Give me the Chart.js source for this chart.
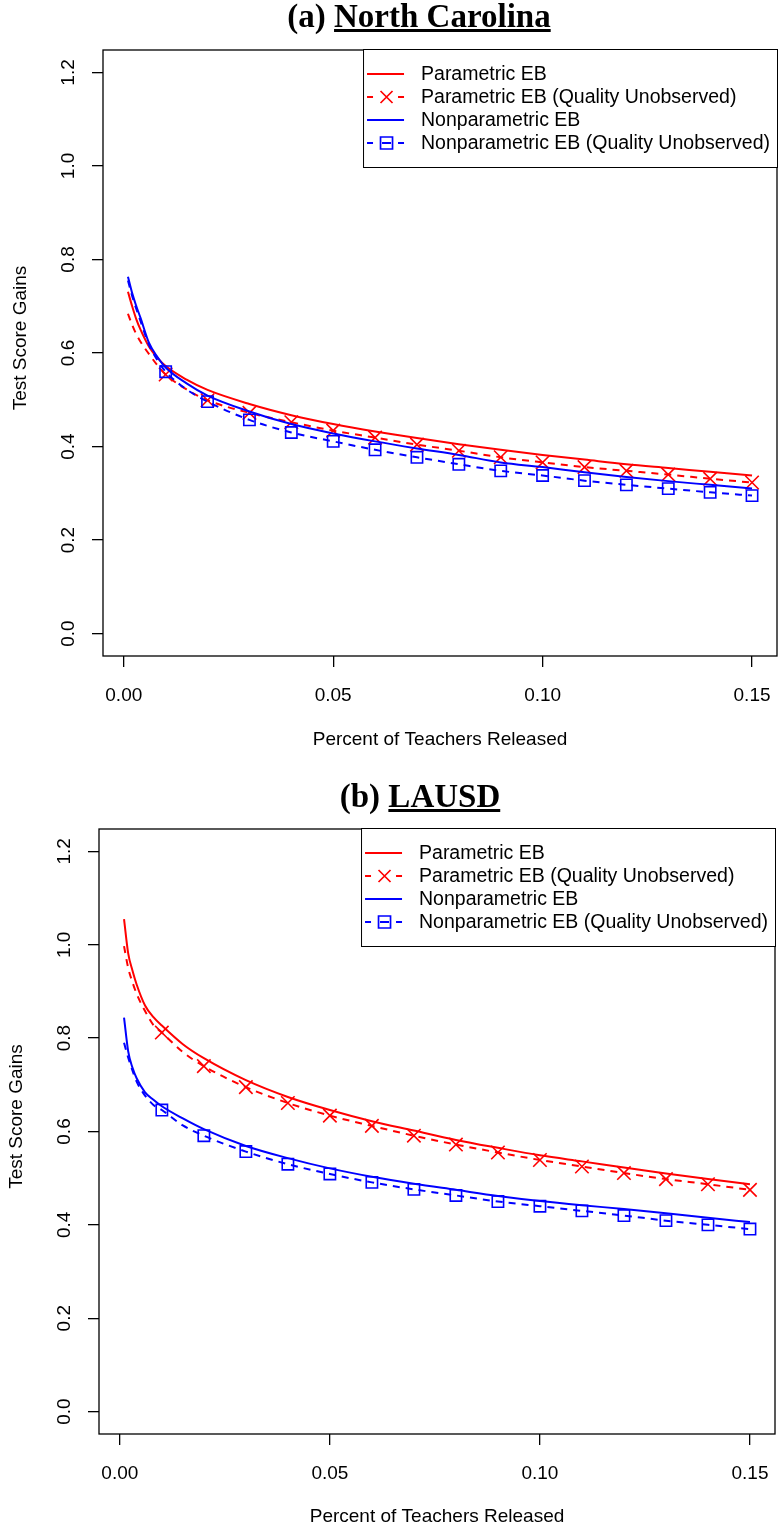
<!DOCTYPE html>
<html>
<head>
<meta charset="utf-8">
<script src="https://cdn.jsdelivr.net/npm/chart.js@4.4.1/dist/chart.umd.min.js"></script>
<style>
  body { margin: 0; background: #fff; }
  #page { position: relative; width: 778px; height: 1530px; overflow: hidden; background: #fff; }
  .panel { position: absolute; left: 0; width: 778px; height: 765px; }
  .title { position: absolute; font: bold 33px "Liberation Serif", "Times New Roman", serif; line-height: 40px;
           white-space: nowrap; transform: translateX(-50%); color: #000; }
</style>
</head>
<body>
<div id="page">
  <div class="panel" style="top:0"><canvas id="chartA" width="778" height="765"></canvas></div>
  <div class="panel" style="top:765px"><canvas id="chartB" width="778" height="765"></canvas></div>
  <div class="title" style="left:419px; top:-4px">(a) <u>North Carolina</u></div>
  <div class="title" style="left:420px; top:776px">(b) <u>LAUSD</u></div>
</div>
<script>
    // x positions of the curves (share of teachers released)
    const xCurve = [0.001, 0.002, 0.003, 0.004, 0.006, 0.008, 0.01, 0.015, 0.02, 0.03, 0.04, 0.05,
                    0.06, 0.07, 0.08, 0.09, 0.10, 0.11, 0.12, 0.13, 0.14, 0.15];
    // x positions where the markers sit
    const markX = [0.01, 0.02, 0.03, 0.04, 0.05, 0.06, 0.07, 0.08, 0.09, 0.10, 0.11, 0.12, 0.13, 0.14, 0.15];

    const xTicks = [0, 0.05, 0.10, 0.15];
    const xTickLabels = ['0.00', '0.05', '0.10', '0.15'];
    const yTicks = [0, 0.2, 0.4, 0.6, 0.8, 1.0, 1.2];
    const yTickLabels = ['0.0', '0.2', '0.4', '0.6', '0.8', '1.0', '1.2'];

    const xTitle = 'Percent of Teachers Released';
    const yTitle = 'Test Score Gains';
    const legendLabels = ['Parametric EB', 'Parametric EB (Quality Unobserved)',
                          'Nonparametric EB', 'Nonparametric EB (Quality Unobserved)'];

    // (a) North Carolina
    const ncParam     = [0.731, 0.700, 0.672, 0.650, 0.614, 0.590, 0.572, 0.543, 0.521, 0.491, 0.467, 0.448,
                         0.432, 0.418, 0.405, 0.393, 0.382, 0.372, 0.362, 0.354, 0.346, 0.338];
    const ncParamQU   = [0.684, 0.660, 0.640, 0.624, 0.598, 0.574, 0.554, 0.522, 0.499, 0.472, 0.452, 0.434,
                         0.419, 0.404, 0.391, 0.377, 0.366, 0.356, 0.348, 0.340, 0.331, 0.323];
    const ncNonpar    = [0.763, 0.728, 0.700, 0.675, 0.622, 0.592, 0.569, 0.535, 0.509, 0.475, 0.448, 0.428,
                         0.411, 0.396, 0.382, 0.366, 0.356, 0.345, 0.335, 0.326, 0.318, 0.310];
    const ncNonparQU  = [0.755, 0.722, 0.694, 0.668, 0.618, 0.585, 0.560, 0.522, 0.496, 0.457, 0.430, 0.411,
                         0.393, 0.377, 0.362, 0.348, 0.338, 0.327, 0.318, 0.310, 0.302, 0.295];

    // (b) LAUSD
    const laParam     = [1.055, 0.981, 0.945, 0.915, 0.870, 0.845, 0.827, 0.787, 0.757, 0.710, 0.674, 0.646,
                         0.622, 0.602, 0.582, 0.565, 0.549, 0.536, 0.523, 0.510, 0.498, 0.487];
    const laParamQU   = [0.997, 0.950, 0.920, 0.895, 0.858, 0.828, 0.812, 0.770, 0.740, 0.695, 0.661, 0.634,
                         0.612, 0.591, 0.572, 0.555, 0.539, 0.525, 0.511, 0.498, 0.487, 0.475];
    const laNonpar    = [0.844, 0.771, 0.737, 0.714, 0.684, 0.668, 0.654, 0.628, 0.605, 0.569, 0.543, 0.521,
                         0.503, 0.488, 0.475, 0.462, 0.451, 0.442, 0.434, 0.425, 0.415, 0.406];
    const laNonparQU  = [0.790, 0.758, 0.731, 0.707, 0.677, 0.657, 0.646, 0.613, 0.591, 0.557, 0.530, 0.509,
                         0.491, 0.476, 0.463, 0.450, 0.440, 0.430, 0.420, 0.409, 0.400, 0.391];

    const RED = '#ff0000';
    const BLUE = '#0000ff';
    const FONT = '"Liberation Sans", Arial, Helvetica, sans-serif';

    const curve = ys => xCurve.map((x, i) => ({ x: x, y: ys[i] }));
    const marks = ys => curve(ys).filter(p => markX.some(m => Math.abs(m - p.x) < 1e-9));

    // R style box round the plot region, plus the rotated y label
    const boxPlugin = {
        id: 'rBox',
        afterDraw(chart, args, opts) {
            const { ctx, chartArea: a } = chart;
            ctx.save();
            ctx.strokeStyle = '#000';
            ctx.lineWidth = 1.3;
            ctx.strokeRect(a.left, a.top, a.right - a.left, a.bottom - a.top);

            ctx.translate(opts.yTitleX, (a.top + a.bottom) / 2 - 15);
            ctx.rotate(-Math.PI / 2);
            ctx.font = '19px ' + FONT;
            ctx.fillStyle = '#000';
            ctx.textAlign = 'center';
            ctx.textBaseline = 'middle';
            ctx.fillText(yTitle, 0, 0);
            ctx.restore();
        }
    };

    // legend box in the top right corner, as R draws it
    const legendPlugin = {
        id: 'rLegend',
        afterDraw(chart) {
            const { ctx, chartArea: a } = chart;
            const styles = [
                { color: RED, dashed: false, mark: null },
                { color: RED, dashed: true, mark: 'x' },
                { color: BLUE, dashed: false, mark: null },
                { color: BLUE, dashed: true, mark: 'sq' }
            ];
            ctx.save();
            ctx.font = '19.5px ' + FONT;
            const textW = Math.max(...legendLabels.map(t => ctx.measureText(t).width));
            const w = 58 + textW + 7, h = 118;
            const left = a.right - w, top = a.top - 1;
            ctx.fillStyle = '#fff';
            ctx.fillRect(left, top, w, h);
            ctx.strokeStyle = '#000';
            ctx.lineWidth = 1;
            ctx.strokeRect(left + 0.5, top + 0.5, w, h);

            legendLabels.forEach((label, i) => {
                const s = styles[i];
                const y = top + 25 + i * 23;
                const x0 = left + 4, x1 = left + 41, cx = left + 23.5;
                ctx.strokeStyle = s.color;
                ctx.lineWidth = 2;
                ctx.beginPath();
                if (!s.dashed) {
                    ctx.moveTo(x0, y); ctx.lineTo(x1, y);
                } else {
                    ctx.moveTo(x0, y); ctx.lineTo(x0 + 6, y);
                    ctx.moveTo(x1 - 6, y); ctx.lineTo(x1, y);
                    if (s.mark === 'sq') { ctx.moveTo(cx - 4.5, y); ctx.lineTo(cx + 4.5, y); }
                }
                ctx.stroke();
                ctx.lineWidth = 1.7;
                ctx.beginPath();
                if (s.mark === 'x') {
                    ctx.moveTo(cx - 6, y - 6); ctx.lineTo(cx + 6, y + 6);
                    ctx.moveTo(cx + 6, y - 6); ctx.lineTo(cx - 6, y + 6);
                } else if (s.mark === 'sq') {
                    ctx.rect(cx - 6, y - 6, 12, 12);
                }
                ctx.stroke();
                ctx.fillStyle = '#000';
                ctx.textBaseline = 'middle';
                ctx.textAlign = 'left';
                ctx.fillText(label, left + 58, y + 1);
            });
            ctx.restore();
        }
    };

    function makePanel(id, p) {
        const W = 778, H = 765;
        const font = { family: FONT, size: 19 };
        const tickGrid = { display: true, drawOnChartArea: false, drawTicks: true, tickLength: 11,
                           color: '#000', lineWidth: 1.3 };
        const ds = [
            { data: curve(p.param), borderColor: RED, borderWidth: 2, pointRadius: 0, order: 6 },
            { data: curve(p.paramQU), borderColor: RED, borderWidth: 2, borderDash: [7, 6], pointRadius: 0, order: 5 },
            { data: marks(p.paramQU), showLine: false, pointStyle: 'crossRot', pointRadius: 9.5,
              pointBorderColor: RED, pointBorderWidth: 1.6, order: 4 },
            { data: curve(p.nonpar), borderColor: BLUE, borderWidth: 2, pointRadius: 0, order: 3 },
            { data: curve(p.nonparQU), borderColor: BLUE, borderWidth: 2, borderDash: [7, 6], pointRadius: 0, order: 2 },
            { data: marks(p.nonparQU), showLine: false, pointStyle: 'rect', pointRadius: 8,
              pointBorderColor: BLUE, pointBackgroundColor: 'rgba(0,0,0,0)', pointBorderWidth: 1.6, order: 1 }
        ];
        ds.forEach(d => { d.cubicInterpolationMode = 'monotone'; d.fill = false; });

        return new Chart(document.getElementById(id).getContext('2d'), {
            type: 'line',
            data: { datasets: ds },
            options: {
                responsive: false,
                animation: false,
                layout: { autoPadding: false,
                          padding: { left: 0, top: p.box.top, right: W - p.box.right, bottom: 0 } },
                plugins: { legend: { display: false }, tooltip: { enabled: false },
                           rBox: { yTitleX: p.yTitleX } },
                scales: {
                    x: {
                        type: 'linear', min: -0.00496, max: 0.15596,
                        afterBuildTicks: s => { s.ticks = xTicks.map(v => ({ value: v })); },
                        afterFit: s => {
                            s.height = H - p.box.bottom;
                            s.paddingLeft = 0;
                            s.paddingRight = 0;
                        },
                        ticks: { callback: v => xTickLabels[xTicks.indexOf(v)], font: font, color: '#000',
                                 padding: 17, maxRotation: 0, autoSkip: false },
                        grid: tickGrid,
                        border: { display: false },
                        title: { display: true, text: xTitle, font: font, color: '#000',
                                 padding: { top: 0, bottom: p.xTitlePad } }
                    },
                    y: {
                        type: 'linear', min: -0.048, max: 1.248,
                        afterBuildTicks: s => { s.ticks = yTicks.map(v => ({ value: v })); },
                        afterFit: s => {
                            s.width = p.box.left;
                            s.paddingTop = 0;
                            s.paddingBottom = 0;
                        },
                        ticks: { callback: v => yTickLabels[yTicks.indexOf(v)], font: font, color: '#000',
                                 minRotation: 90, maxRotation: 90, crossAlign: 'center', padding: 10 },
                        grid: tickGrid,
                        border: { display: false },
                        title: { display: false }
                    }
                }
            },
            plugins: [boxPlugin, legendPlugin]
        });
    }

    makePanel('chartA', {
        param: ncParam, paramQU: ncParamQU, nonpar: ncNonpar, nonparQU: ncNonparQU,
        box: { left: 103, top: 50, right: 777, bottom: 656 }, xTitlePad: 13.6, yTitleX: 21
    });
    makePanel('chartB', {
        param: laParam, paramQU: laParamQU, nonpar: laNonpar, nonparQU: laNonparQU,
        box: { left: 99, top: 64, right: 775, bottom: 669 }, xTitlePad: 1.6, yTitleX: 17
    });
</script>
</body>
</html>
